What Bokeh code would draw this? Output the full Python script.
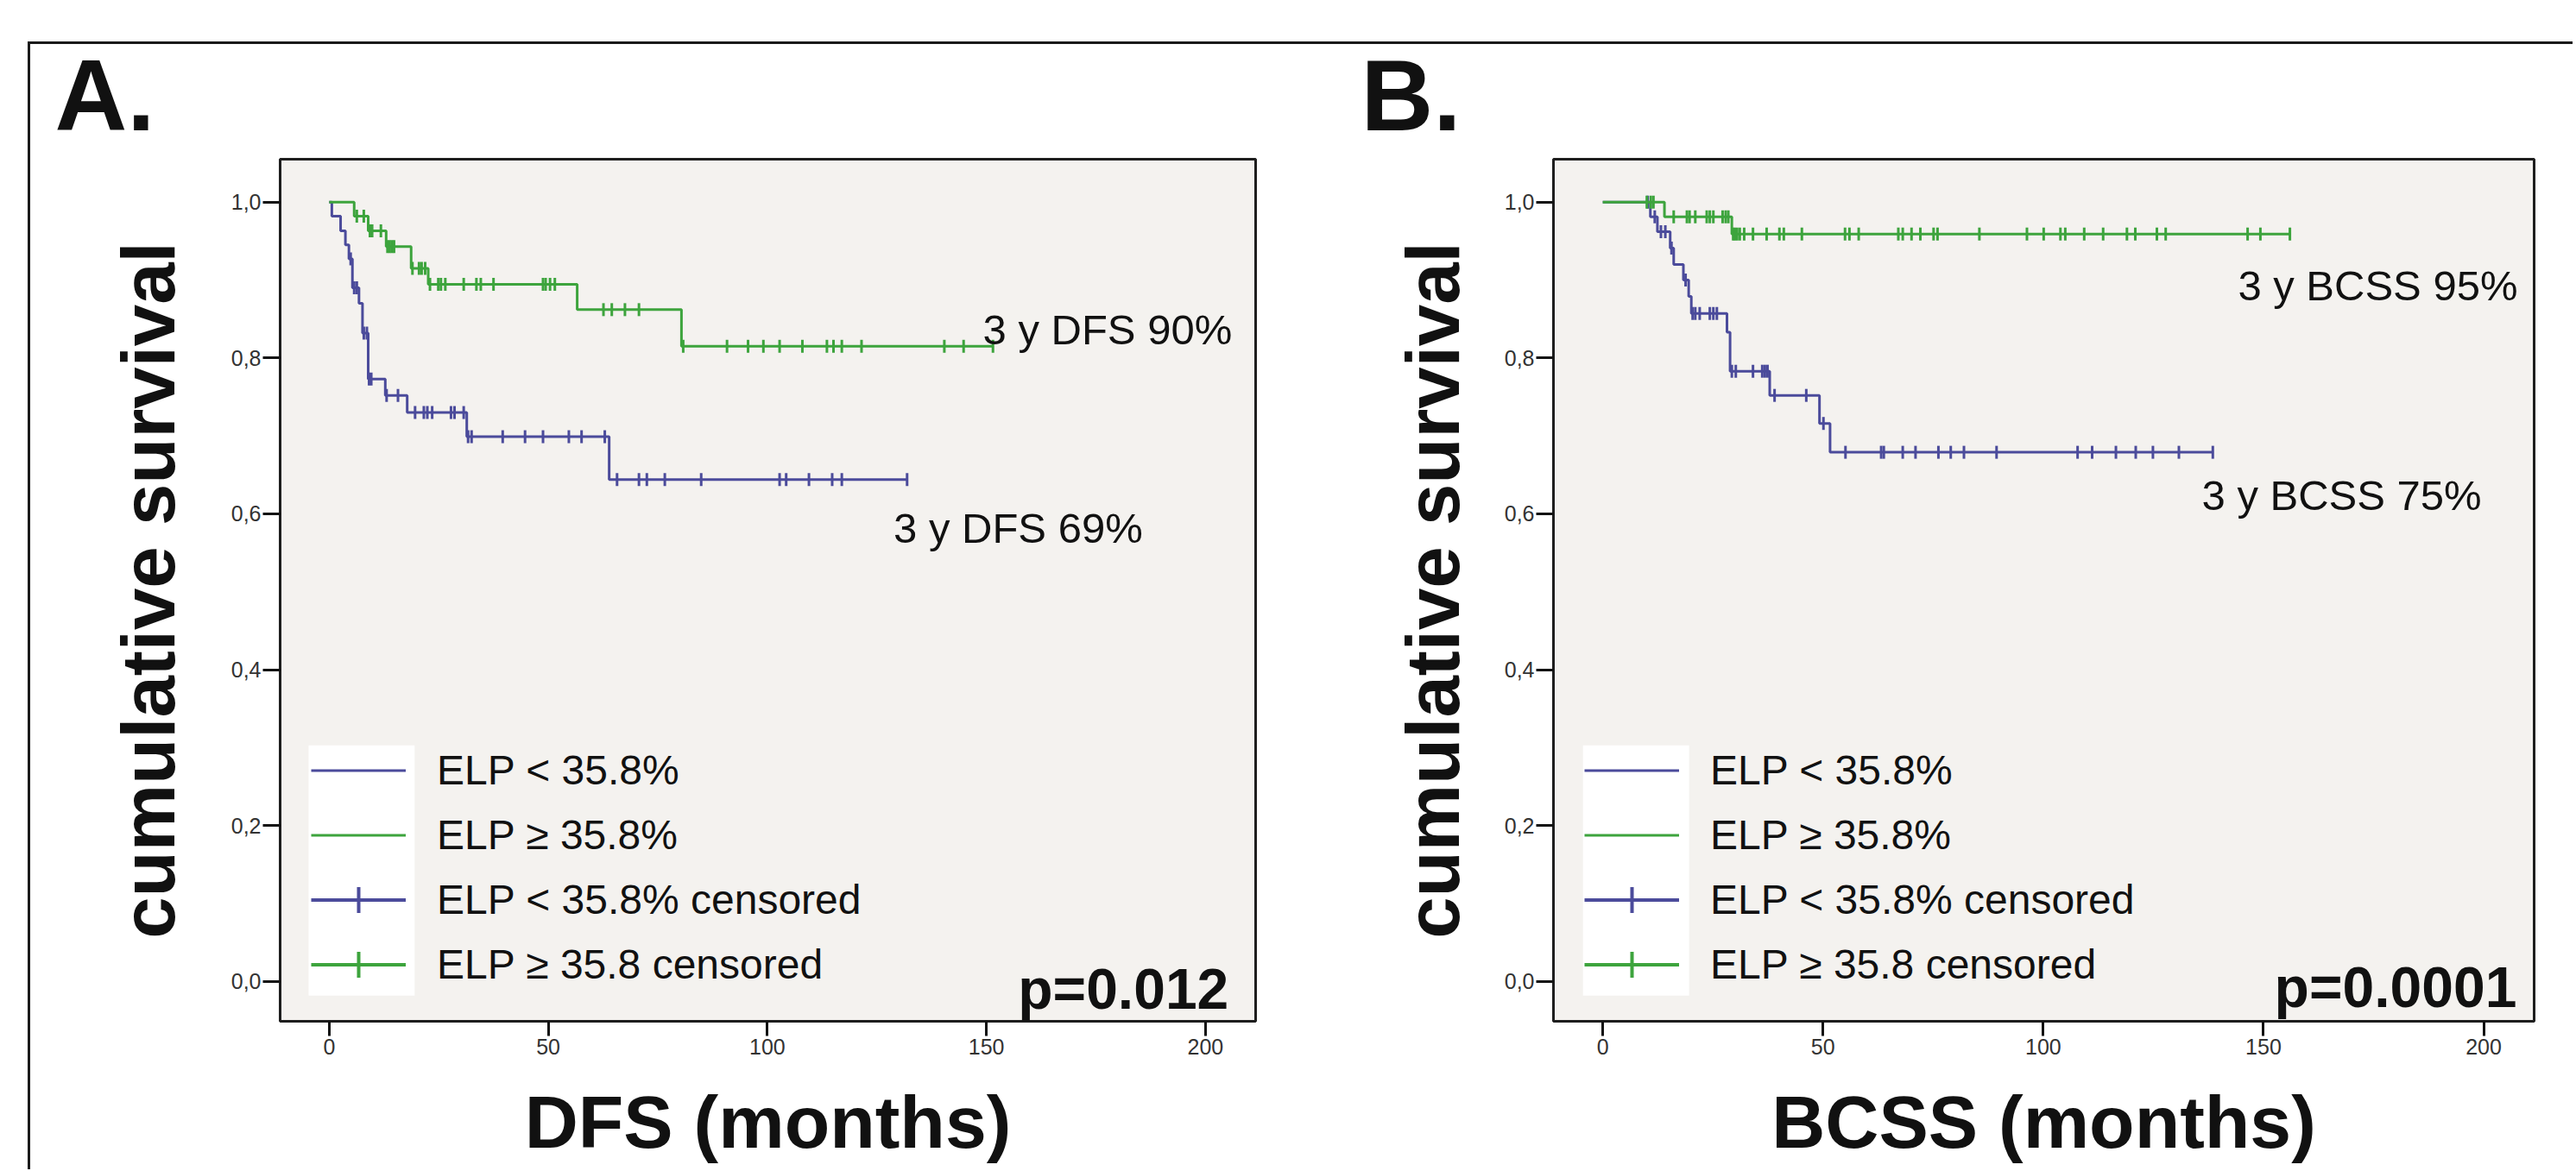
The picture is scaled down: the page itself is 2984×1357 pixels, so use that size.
import numpy as np
from bokeh.plotting import figure
from bokeh.layouts import row
from bokeh.models import (Range1d, FixedTicker, CustomJSTickFormatter, Label, Title,
                          Legend, LegendItem, BoxAnnotation)
from bokeh.embed import file_html
from bokeh.resources import INLINE

# ---------------- data ----------------
x_ticks = [0, 50, 100, 150, 200]
y_ticks = [0.0, 0.2, 0.4, 0.6, 0.8, 1.0]

# Panel A: DFS
dfs_low_times = [0, 0.6, 2.6, 3.7, 4.5, 5.3, 6.8, 7.6, 8.9, 12.8, 17.8, 31.4, 63.9]
dfs_low_surv = [1.0, 0.982, 0.963, 0.945, 0.927, 0.890, 0.870, 0.832, 0.773, 0.752, 0.730, 0.699, 0.644]
dfs_low_cens = [4.9, 5.7, 6.3, 7.9, 8.6, 9.1, 9.6, 13.1, 15.7, 19.6, 21.6, 22.4, 23.5, 27.8, 28.6,
                30.7, 31.7, 32.5, 39.6, 44.7, 48.8, 54.7, 57.6, 62.9, 65.7, 70.7, 72.5, 76.6,
                84.9, 102.8, 104.3, 109.5, 114.8, 117.0, 131.9]

dfs_high_times = [0, 5.7, 8.9, 13.0, 18.7, 22.6, 56.6, 80.4]
dfs_high_surv = [1.0, 0.982, 0.963, 0.943, 0.915, 0.8945, 0.862, 0.815]
dfs_high_cens = [6.3, 7.9, 9.3, 9.8, 11.8, 13.3, 13.8, 14.3, 14.8, 19.0, 20.5, 21.1, 21.9, 23.0,
                 24.9, 25.5, 26.5, 30.7, 33.6, 34.6, 37.5, 48.8, 49.4, 50.4, 51.5, 62.6, 64.5,
                 67.5, 70.7, 80.8, 90.8, 95.6, 99.1, 102.8, 108.0, 113.6, 115.1, 117.0, 121.5,
                 140.4, 144.8, 151.5]

# Panel B: BCSS
bcss_low_times = [0, 10.8, 12.4, 15.3, 16.1, 18.3, 19.5, 20.1, 28.2, 28.9, 37.9, 49.2, 51.6]
bcss_low_surv = [1.0, 0.981, 0.962, 0.941, 0.920, 0.900, 0.879, 0.857, 0.833, 0.783, 0.752, 0.716, 0.679]
bcss_low_cens = [10.2, 11.8, 13.2, 14.2, 15.6, 18.8, 20.4, 21.0, 22.0, 24.3, 25.1, 25.9, 29.3,
                 30.2, 34.1, 36.2, 36.8, 37.4, 39.0, 46.2, 50.1, 55.1, 63.2, 63.8, 68.1, 71.0,
                 76.2, 79.0, 82.0, 89.4, 107.8, 111.1, 116.5, 121.0, 124.9, 130.8, 138.5]

bcss_high_times = [0, 14.0, 29.3]
bcss_high_surv = [1.0, 0.981, 0.959]
bcss_high_cens = [10.0, 10.9, 11.5, 16.1, 19.1, 19.7, 21.0, 23.6, 24.3, 25.1, 27.2, 27.9, 28.5,
                  29.6, 30.0, 30.5, 31.1, 32.1, 34.1, 37.2, 40.1, 41.1, 45.2, 55.0, 56.0, 58.1,
                  67.1, 68.1, 70.1, 72.1, 75.1, 76.0, 85.5, 96.3, 100.1, 103.9, 105.0, 109.3,
                  113.6, 119.0, 120.9, 125.8, 127.8, 146.4, 149.3, 156.0]

legend_labels = ["ELP < 35.8%", "ELP \u2265 35.8%", "ELP < 35.8% censored", "ELP \u2265 35.8 censored"]

# ---------------- styling ----------------
BLUE = "#4B4B9B"
GREEN = "#3DA43D"
BG = "#F4F2EF"
SANS = "Liberation Sans"


def km_path(times, surv, cens):
    end = max(cens[-1], times[-1])
    xs = list(times) + [end]
    ys = list(surv) + [surv[-1]]
    idx = np.searchsorted(np.array(times), np.array(cens), side="right") - 1
    cy = list(np.array(surv)[idx])
    return xs, ys, cy


def make_panel(letter, letter_offset, low, high, xlabel, notes, pval, pval_xy,
               border_left, frame_width, border_right, label_standoff, box_x):
    p = figure(frame_width=frame_width, frame_height=999,
               min_border_left=border_left, min_border_right=border_right,
               min_border_top=184, min_border_bottom=172,
               x_range=Range1d(-11.2, 211.45), y_range=Range1d(-0.051, 1.055),
               output_backend="svg", toolbar_location=None,
               background_fill_color=BG, border_fill_alpha=0,
               outline_line_color="#1e1e1e", outline_line_width=3)
    p.xgrid.visible = False
    p.ygrid.visible = False

    p.xaxis.ticker = FixedTicker(ticks=x_ticks)
    p.yaxis.ticker = FixedTicker(ticks=y_ticks)
    p.yaxis.formatter = CustomJSTickFormatter(code="return tick.toFixed(1).replace('.', ',');")
    for ax, tick_out, std in ((p.xaxis[0], 17, 3), (p.yaxis[0], 20, 2)):
        ax.axis_line_color = None
        ax.major_tick_in = 0
        ax.major_tick_out = tick_out
        ax.major_tick_line_width = 3
        ax.major_tick_line_color = "#111111"
        ax.minor_tick_line_color = None
        ax.major_label_standoff = std
        ax.major_label_text_font = SANS
        ax.major_label_text_font_size = "25px"
        ax.major_label_text_color = "#333333"
        ax.axis_label_text_font = SANS
        ax.axis_label_text_font_style = "bold"
        ax.axis_label_text_color = "#111111"
    p.xaxis.axis_label = xlabel
    p.xaxis.axis_label_text_font_size = "86px"
    p.xaxis.axis_label_standoff = 27
    p.yaxis.axis_label = "cumulative survival"
    p.yaxis.axis_label_text_font_size = "87px"
    p.yaxis.axis_label_standoff = label_standoff

    # white box behind the legend symbols
    p.add_layout(BoxAnnotation(left=box_x[0], right=box_x[1], bottom=-0.018, top=0.303,
                               fill_color="white", fill_alpha=1.0, line_alpha=0,
                               level="underlay"))

    step_renderers = []
    cens_legend = []
    for (times, surv, cens), color in ((low, BLUE), (high, GREEN)):
        xs, ys, cy = km_path(times, surv, cens)
        r = p.step(xs, ys, mode="after", line_color=color, line_width=3)
        p.scatter(cens, cy, marker="dash", angle=np.pi / 2, size=15,
                  line_color=color, line_width=3)
        step_renderers.append(r)
        # hidden copies used only to draw the legend symbols of the censored entries
        lh = p.line(xs, ys, line_color=color, line_width=4, visible=False)
        mh = p.scatter(cens, cy, marker="cross", size=30,
                       line_color=color, line_width=4, visible=False)
        cens_legend.append([lh, mh])

    legend = Legend(items=[LegendItem(label=legend_labels[0], renderers=[step_renderers[0]]),
                           LegendItem(label=legend_labels[1], renderers=[step_renderers[1]]),
                           LegendItem(label=legend_labels[2], renderers=cens_legend[0]),
                           LegendItem(label=legend_labels[3], renderers=cens_legend[1])],
                    location=(36, 28), glyph_width=110, glyph_height=75,
                    label_height=75, label_standoff=36, spacing=0, padding=0, margin=0,
                    border_line_color=None, background_fill_alpha=0,
                    label_text_font=SANS, label_text_font_size="48px",
                    label_text_color="#111111")
    p.add_layout(legend)

    for text, x, y in notes:
        p.add_layout(Label(x=x, y=y, text=text, text_font=SANS, text_font_size="49px",
                           text_color="#111111", text_align="left",
                           text_baseline="alphabetic"))
    p.add_layout(Label(x=pval_xy[0], y=pval_xy[1], text=pval, text_font=SANS,
                       text_font_style="bold", text_font_size="66px", text_color="#111111",
                       text_align="right", text_baseline="alphabetic"))
    p.add_layout(Title(text=letter, align="left", offset=letter_offset, standoff=17,
                       text_font=SANS, text_font_style="bold", text_font_size="116px",
                       text_color="#111111"), "above")
    return p


pA = make_panel("A.", -261,
                (dfs_low_times, dfs_low_surv, dfs_low_cens),
                (dfs_high_times, dfs_high_surv, dfs_high_cens),
                "DFS (months)",
                [("3 y DFS 90%", 149.2, 0.836), ("3 y DFS 69%", 128.8, 0.5815)],
                "p=0.012", (205.3, -0.009),
                border_left=324, frame_width=1130, border_right=46, label_standoff=45,
                box_x=(-4.7, 19.5))

pB = make_panel("B.", -223,
                (bcss_low_times, bcss_low_surv, bcss_low_cens),
                (bcss_high_times, bcss_high_surv, bcss_high_cens),
                "BCSS (months)",
                [("3 y BCSS 95%", 144.2, 0.893), ("3 y BCSS 75%", 136.0, 0.624)],
                "p=0.0001", (207.5, -0.007),
                border_left=299, frame_width=1136, border_right=45, label_standoff=32,
                box_x=(-4.5, 19.6))

# outer figure frame (top and left rules) drawn as the container's background
frame_css = {
    "background-image": "linear-gradient(#1a1a1a, #1a1a1a), linear-gradient(#1a1a1a, #1a1a1a)",
    "background-size": "100% 3px, 3px 100%",
    "background-position": "32px 48px, 32px 48px",
    "background-repeat": "no-repeat",
}
layout = row(pA, pB, styles=frame_css)

open("out.html", "w").write(file_html(layout, INLINE))
